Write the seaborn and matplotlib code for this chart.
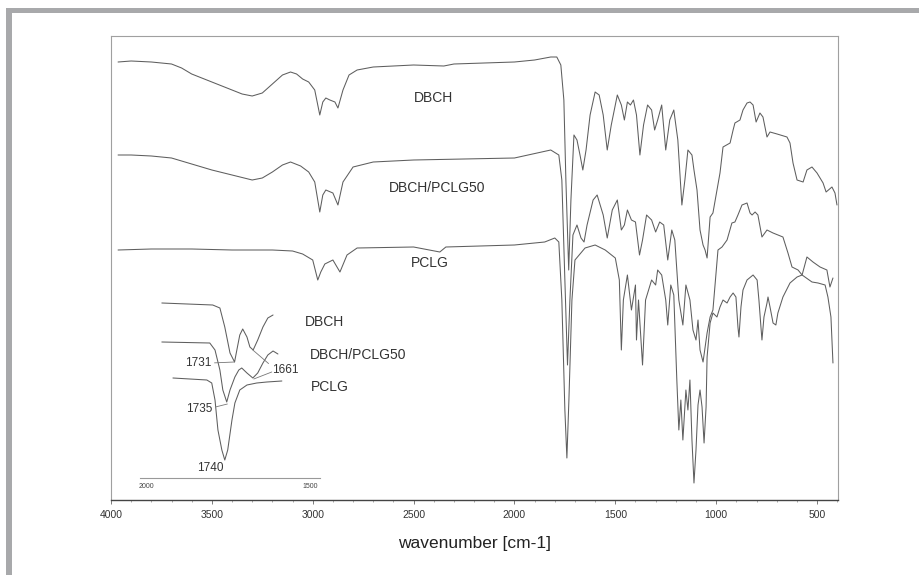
import numpy as np
import pandas as pd
import matplotlib
matplotlib.use("Agg")
import matplotlib.pyplot as plt
import seaborn as sns

# ---------------- data (wavenumber cm-1, relative transmittance) -------------
dbch_wn = [3965, 3900, 3800, 3700, 3650, 3600, 3550, 3500, 3450, 3400, 3350, 3300, 3250, 3200, 3150,
           3110, 3080, 3050, 3020, 2990, 2965, 2950, 2935, 2915, 2890, 2875, 2850, 2820, 2780, 2700,
           2500, 2350, 2300, 2000, 1900, 1820, 1790, 1770, 1755, 1745, 1731, 1720, 1705, 1690, 1675,
           1661, 1645, 1625, 1600, 1580, 1560, 1540, 1520, 1490, 1470, 1455, 1440, 1425, 1410, 1395,
           1378, 1360, 1340, 1320, 1305, 1290, 1270, 1250, 1230, 1210, 1190, 1170, 1155, 1140, 1120,
           1110, 1095, 1080, 1065, 1055, 1045, 1030, 1016, 981, 966, 931, 916, 907, 882, 867, 847,
           832, 817, 802, 783, 768, 748, 733, 698, 649, 634, 619, 599, 569, 550, 525, 500, 470, 455,
           426, 411, 401]
dbch_t = [438, 439, 438, 436, 432, 426, 422, 418, 414, 410, 406, 404, 407, 416, 425,
          428, 426, 421, 418, 410, 385, 398, 402, 400, 398, 392, 410, 425, 430, 433,
          435, 434, 436, 438, 440, 443, 443, 435, 400, 320, 230, 300, 365, 360, 345,
          330, 350, 385, 408, 405, 385, 350, 375, 405, 395, 380, 398, 395, 400, 385,
          345, 375, 395, 390, 370, 380, 395, 350, 380, 390, 360, 295, 320, 350, 345,
          330, 310, 270, 255, 250, 242, 283, 287, 327, 353, 357, 370, 377, 380, 390, 397,
          398, 395, 378, 387, 383, 363, 368, 366, 363, 357, 337, 320, 318, 330, 333, 327, 317, 308,
          313, 307, 295]

mix_wn = [3965, 3900, 3800, 3700, 3600, 3500, 3400, 3300, 3250, 3200, 3150, 3110, 3060, 3020, 2990,
          2965, 2950, 2935, 2900, 2875, 2850, 2800, 2700, 2500, 2000, 1820, 1780, 1765, 1750, 1737,
          1725, 1710, 1690, 1670, 1655, 1640, 1610, 1590, 1560, 1540, 1515, 1490, 1470, 1455, 1440,
          1420, 1400, 1380, 1365, 1345, 1320, 1300, 1280, 1260, 1240, 1220, 1205, 1185, 1165, 1150,
          1130, 1115, 1100, 1090, 1080, 1065, 1045, 1030, 1016, 991, 971, 946, 922, 907, 892, 872,
          847, 832, 822, 807, 793, 773, 748, 718, 669, 644, 624, 594, 574, 550, 520, 485, 451, 436,
          421]
mix_t = [345, 345, 344, 342, 336, 330, 325, 320, 322, 328, 335, 338, 334, 328, 318,
         288, 305, 310, 307, 295, 318, 333, 338, 340, 342, 350, 345, 320, 220, 135,
         200, 265, 275, 262, 258, 275, 300, 305, 285, 262, 290, 300, 270, 275, 290,
         280, 278, 245, 260, 285, 280, 268, 278, 275, 240, 270, 260, 200, 175, 215,
         200, 170, 160, 180, 150, 138, 167, 183, 190, 250, 253, 260, 277, 278, 285, 295,
         297, 287, 285, 288, 285, 263, 270, 267, 263, 247, 233, 230, 225, 243, 238, 233, 230, 213,
         222]

pclg_wn = [3965, 3800, 3600, 3400, 3200, 3100, 3050, 3000, 2975, 2960, 2940, 2900, 2865, 2830, 2780,
           2500, 2370, 2340, 2000, 1850, 1800, 1780, 1765, 1750, 1740, 1730, 1715, 1700, 1650, 1600,
           1550, 1500, 1480, 1470, 1460, 1440, 1420, 1400, 1395, 1385, 1365, 1350, 1320, 1300, 1290,
           1270, 1250, 1240, 1225, 1210, 1195, 1185, 1175, 1165, 1150, 1140, 1130, 1120, 1110, 1100,
           1090, 1080, 1070, 1060, 1050, 1045, 1030, 1016, 996, 981, 966, 946, 931, 916, 902, 892,
           887, 877, 867, 847, 817, 797, 788, 778, 773, 763, 748, 743, 733, 718, 704, 694, 669, 634,
           599, 574, 525, 495, 460, 446, 431, 426, 421]
pclg_t = [250, 251, 251, 250, 250, 249, 246, 240, 220, 228, 236, 240, 228, 245, 252,
          253, 248, 253, 255, 258, 262, 258, 200, 90, 42, 100, 200, 240, 252, 255,
          250, 242, 220, 150, 200, 225, 190, 215, 160, 200, 135, 200, 220, 215, 230,
          225, 200, 175, 215, 205, 120, 70, 100, 60, 110, 90, 120, 60, 17, 50,
          95, 110, 93, 57, 93, 143, 177, 187, 183, 193, 200, 197, 203, 207, 203, 173,
          163, 193, 210, 220, 225, 220, 200, 173, 160, 183, 197, 203, 193, 177, 175, 187, 203, 217,
          223, 225, 218, 217, 215, 203, 183, 160, 137]

# inset (carbonyl region)
in_dbch_wn = [1954, 1798, 1776, 1761, 1745, 1731, 1724, 1715, 1706, 1693, 1684, 1674, 1660, 1644, 1629, 1613]
in_dbch_t = [197, 195, 192, 173, 147, 138, 150, 165, 171, 163, 153, 150, 160, 173, 182, 185]
in_mix_wn = [1954, 1807, 1791, 1776, 1767, 1755, 1745, 1730, 1718, 1709, 1693, 1675, 1660, 1644, 1629, 1613, 1598]
in_mix_t = [158, 157, 150, 130, 110, 98, 110, 123, 130, 132, 127, 122, 127, 137, 145, 149, 146]
in_pclg_wn = [1920, 1816, 1801, 1791, 1782, 1770, 1761, 1752, 1739, 1730, 1715, 1693, 1663, 1632, 1586]
in_pclg_t = [122, 120, 117, 100, 70, 50, 40, 50, 80, 97, 110, 115, 117, 118, 119]

main_labels = ["DBCH", "DBCH/PCLG50", "PCLG"]
x_ticks = [4000, 3500, 3000, 2500, 2000, 1500, 1000, 500]
inset_ticks = [2000, 1500]

# ---------------- figure ----------------
W, H = 919, 575
sns.set_theme(style="white")
plt.rcParams["font.family"] = ["Liberation Sans", "DejaVu Sans"]
fig = plt.figure(figsize=(W / 100, H / 100), dpi=100)
fig.patch.set_facecolor("white")

frame_c = "#a8a9ab"
fig.patches.append(matplotlib.patches.Rectangle((6 / W, 0), 6 / W, 1 - 8 / H, transform=fig.transFigure,
                                                facecolor=frame_c, edgecolor="none", zorder=0))
fig.patches.append(matplotlib.patches.Rectangle((6 / W, 1 - 13 / H), 1, 5 / H, transform=fig.transFigure,
                                                facecolor=frame_c, edgecolor="none", zorder=0))

def px_axes(x0, y0, x1, y1):
    return [x0 / W, 1 - y1 / H, (x1 - x0) / W, (y1 - y0) / H]

ax = fig.add_axes(px_axes(111, 36, 838, 500))
line_c = "#5e5e5e"
for wn, t in [(dbch_wn, dbch_t), (mix_wn, mix_t), (pclg_wn, pclg_t)]:
    sns.lineplot(x=wn, y=t, ax=ax, color=line_c, lw=0.75, sort=False, estimator=None)

ax.set_xlim(4000, 396)
ax.set_ylim(0, 464)
ax.set_yticks([])
ax.set_xticks(x_ticks)
ax.set_xticklabels([str(v) for v in x_ticks], fontsize=7.5, color="#333333")
ax.set_xticks(np.arange(400, 4001, 100), minor=True)
ax.tick_params(axis="x", which="major", direction="out", length=3, width=0.6, color="#666666", pad=4, bottom=True)
ax.tick_params(axis="x", which="minor", direction="out", length=1.5, width=0.5, color="#888888", bottom=True)
for s in ["top", "left", "right"]:
    ax.spines[s].set_color("#a0a0a0")
    ax.spines[s].set_linewidth(0.8)
ax.spines["bottom"].set_color("#444444")
ax.spines["bottom"].set_linewidth(1.0)
ax.set_xlabel("wavenumber [cm-1]", fontsize=12.5, color="#222222", labelpad=12)
ax.set_facecolor("white")

ax.text(2400, 402, main_labels[0], fontsize=10, color="#333333", ha="center", va="center")
ax.text(2385, 312, main_labels[1], fontsize=10, color="#333333", ha="center", va="center")
ax.text(2420, 237, main_labels[2], fontsize=10, color="#333333", ha="center", va="center")

# ---------------- inset ----------------
axi = fig.add_axes(px_axes(140, 290, 320, 478))
axi.patch.set_alpha(0)
for wn, t in [(in_dbch_wn, in_dbch_t), (in_mix_wn, in_mix_t), (in_pclg_wn, in_pclg_t)]:
    sns.lineplot(x=wn, y=t, ax=axi, color=line_c, lw=0.75, sort=False, estimator=None)
axi.set_xlim(2021, 1469)
axi.set_ylim(22, 210)
axi.set_yticks([])
axi.set_xticks(inset_ticks)
axi.set_xticklabels([str(v) for v in inset_ticks], fontsize=5, color="#444444")
axi.tick_params(axis="x", direction="out", length=1.5, width=0.5, color="#888888", pad=2)
for s in ["top", "left", "right"]:
    axi.spines[s].set_visible(False)
axi.spines["bottom"].set_color("#999999")
axi.spines["bottom"].set_linewidth(0.8)
axi.set_xlabel("")

ann = dict(fontsize=8.5, color="#333333")
lp = dict(arrowstyle="-", color="#777777", lw=0.6, shrinkA=0, shrinkB=0)
axi.annotate("1731", xy=(1731, 138), xytext=(1843, 137), ha="center", va="center",
             arrowprops=dict(lp, relpos=(1, 0.5)), **ann)
axi.annotate("1735", xy=(1753, 96), xytext=(1840, 91), ha="center", va="center",
             arrowprops=dict(lp, relpos=(1, 0.6)), **ann)
axi.annotate("1661", xy=(1675, 150), xytext=(1576, 130), ha="center", va="center",
             arrowprops=dict(lp, relpos=(0, 0.8)), **ann)
axi.annotate("", xy=(1672, 121), xytext=(1617, 128), arrowprops=lp)
axi.text(1806, 32, "1740", ha="center", va="center", **ann)
axi.text(1454, 178, main_labels[0], ha="center", va="center", fontsize=10, color="#333333", clip_on=False)
axi.text(1500, 145, main_labels[1], ha="left", va="center", fontsize=10, color="#333333", clip_on=False)
axi.text(1438, 113, main_labels[2], ha="center", va="center", fontsize=10, color="#333333", clip_on=False)

fig.savefig("out.png", dpi=100)
